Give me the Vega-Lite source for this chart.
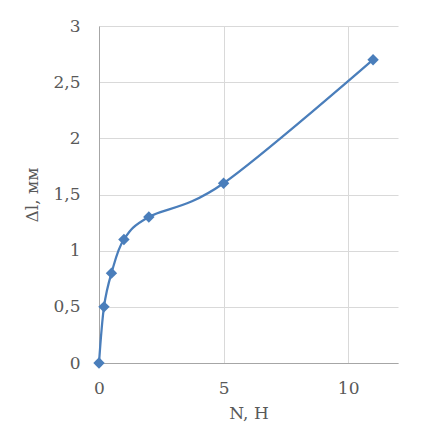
{
  "$schema": "https://vega.github.io/schema/vega-lite/v6.json",
  "autosize": "none",
  "width": 299,
  "height": 337,
  "padding": {"left": 99, "top": 26, "right": 36, "bottom": 67},
  "background": "white",
  "data": {"values": [
    {"N": 0, "dl": 0},
    {"N": 0.2, "dl": 0.5},
    {"N": 0.5, "dl": 0.8},
    {"N": 1, "dl": 1.1},
    {"N": 2, "dl": 1.3},
    {"N": 5, "dl": 1.6},
    {"N": 11, "dl": 2.7}
  ]},
  "encoding": {
    "x": {"field": "N", "type": "quantitative",
      "scale": {"domain": [0, 12], "nice": false, "zero": true},
      "axis": {"values": [0, 5, 10], "title": "N, Н", "labelPadding": 17, "titlePadding": 9, "labelFlush": false}},
    "y": {"field": "dl", "type": "quantitative",
      "scale": {"domain": [0, 3], "nice": false},
      "axis": {"values": [0, 0.5, 1, 1.5, 2, 2.5, 3], "title": "Δl, мм", "labelPadding": 19, "titlePadding": 11,
        "format": ".1~f",
        "labelExpr": "replace(datum.label, '.', ',')"}}
  },
  "layer": [
    {"mark": {"type": "line", "interpolate": "cardinal", "color": "#4a7ebb", "strokeWidth": 2.25}},
    {"mark": {"type": "point", "shape": "diamond", "filled": true, "color": "#4a7ebb", "size": 130, "opacity": 1}}
  ],
  "config": {
    "view": {"stroke": null},
    "font": "DejaVu Serif",
    "axis": {
      "labelFont": "DejaVu Serif", "labelFontSize": 17,
      "titleFont": "DejaVu Serif", "titleFontSize": 17,
      "labelColor": "#595959",
      "titleColor": "#595959", "titleFontWeight": "normal",
      "domainColor": "#a6a6a6", "domainWidth": 1,
      "gridColor": "#d9d9d9", "gridWidth": 1,
      "ticks": false
    }
  }
}
